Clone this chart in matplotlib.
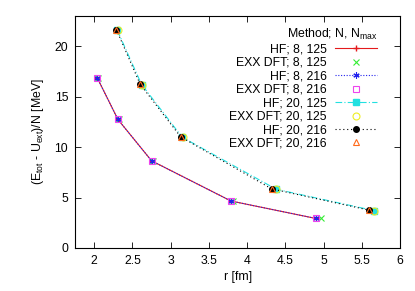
import matplotlib
matplotlib.use("Agg")
import matplotlib.pyplot as plt

plt.rcParams["font.family"] = ["Liberation Sans", "DejaVu Sans"]
plt.rcParams["font.size"] = 8.8
plt.rcParams["mathtext.fontset"] = "custom"
plt.rcParams["mathtext.rm"] = "Liberation Sans"
plt.rcParams["mathtext.it"] = "Liberation Sans"

# N = 8
r_hf_8_125 = [2.04, 2.31, 2.75, 3.79, 4.90]
e_hf_8_125 = [16.86, 12.74, 8.64, 4.65, 2.92]
r_exx_8_125 = [2.05, 2.32, 2.77, 3.82, 4.97]
e_exx_8_125 = [16.86, 12.74, 8.64, 4.65, 2.92]
r_hf_8_216 = [2.04, 2.31, 2.75, 3.79, 4.90]
e_hf_8_216 = [16.86, 12.74, 8.64, 4.65, 2.92]
r_exx_8_216 = [2.04, 2.31, 2.75, 3.79, 4.90]
e_exx_8_216 = [16.86, 12.74, 8.64, 4.65, 2.92]

# N = 20
r_hf_20_125 = [2.30, 2.62, 3.15, 4.38, 5.66]
e_hf_20_125 = [21.6, 16.2, 10.98, 5.82, 3.70]
r_exx_20_125 = [2.31, 2.62, 3.16, 4.38, 5.66]
e_exx_20_125 = [21.6, 16.2, 10.98, 5.82, 3.70]
r_hf_20_216 = [2.29, 2.60, 3.13, 4.32, 5.60]
e_hf_20_216 = [21.65, 16.24, 11.02, 5.86, 3.74]
r_exx_20_216 = [2.29, 2.60, 3.13, 4.32, 5.60]
e_exx_20_216 = [21.65, 16.24, 11.02, 5.86, 3.74]

x_ticks = [2, 2.5, 3, 3.5, 4, 4.5, 5, 5.5, 6]
y_ticks = [0, 5, 10, 15, 20]

fig, ax = plt.subplots(figsize=(4.15, 2.91), dpi=100)
fig.subplots_adjust(left=0.181, right=0.964, top=0.945, bottom=0.148)

ax.plot(r_hf_8_125, e_hf_8_125, color="#e41a1c", ls="-", lw=0.8, marker="+", ms=5,
        label="HF; 8, 125")
ax.plot(r_exx_8_125, e_exx_8_125, color="#33ee33", ls="none", marker="x", ms=4, mew=0.8,
        label="EXX DFT; 8, 125")
ax.plot(r_hf_8_216, e_hf_8_216, color="#2222ee", ls=(0, (1, 1.5)), lw=0.8, marker=(6, 2, 0),
        ms=4.5, mew=0.8, label="HF; 8, 216")
ax.plot(r_exx_8_216, e_exx_8_216, color="#ee44ee", ls="none", marker="s", ms=5, mfc="none",
        mew=0.8, label="EXX DFT; 8, 216")
ax.plot(r_hf_20_125, e_hf_20_125, color="#22e0e0", ls=(0, (6, 2, 1, 2)), lw=0.8, marker="s",
        ms=4, label="HF; 20, 125")
ax.plot(r_exx_20_125, e_exx_20_125, color="#eeee22", ls="none", marker="o", ms=5, mfc="none",
        mew=0.8, label="EXX DFT; 20, 125")
ax.plot(r_hf_20_216, e_hf_20_216, color="black", ls=(0, (1, 2.5)), lw=0.8, marker="o", ms=4,
        label="HF; 20, 216")
ax.plot(r_exx_20_216, e_exx_20_216, color="#ff6a1a", ls="none", marker="^", ms=4.5, mfc="none",
        mew=0.8, label="EXX DFT; 20, 216")

ax.set_xlim(1.75, 6)
ax.set_ylim(0, 23)
ax.set_xticks(x_ticks)
ax.set_xticklabels([f"{t:g}" for t in x_ticks])
ax.set_yticks(y_ticks)
ax.tick_params(direction="in", top=True, right=True, length=4, width=0.6, pad=5)
for s in ax.spines.values():
    s.set_linewidth(0.8)

ax.set_xlabel("r [fm]", labelpad=3)
ax.set_ylabel(r"(E$_{\rm tot}$ - U$_{\rm ext}$)/N [MeV]", labelpad=6)

leg = ax.legend(loc="upper right", bbox_to_anchor=(0.955, 0.99), frameon=False,
                markerfirst=False, title=r"Method; N, N$_{\rm max}$", alignment="right",
                handlelength=3.4, labelspacing=0.12, handletextpad=0.7,
                borderaxespad=0.3, fontsize=8.8, title_fontsize=8.8)
for t in leg.get_texts():
    t.set_ha("right")

fig.savefig("out.png", dpi=100)
